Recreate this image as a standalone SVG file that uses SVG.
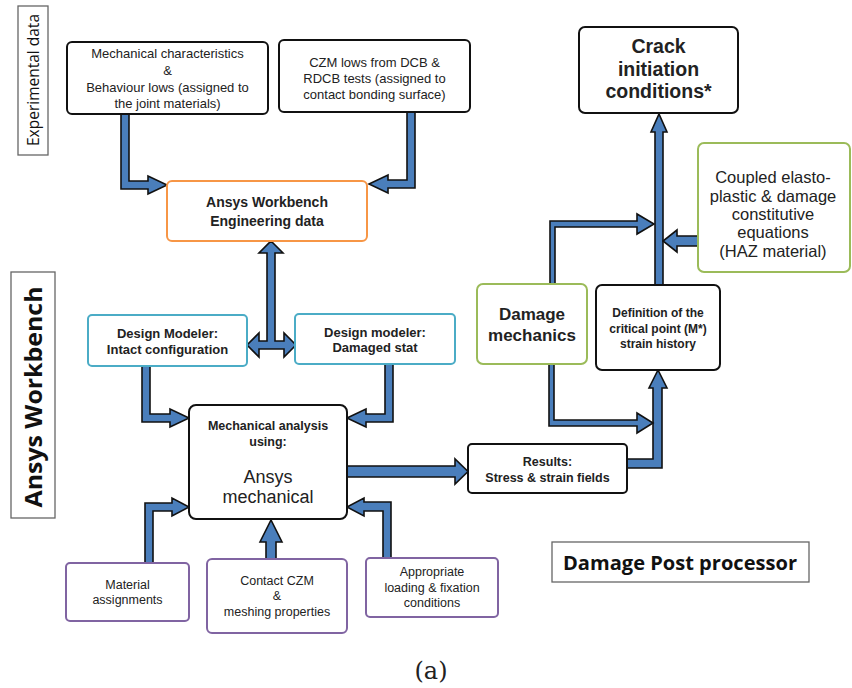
<svg xmlns="http://www.w3.org/2000/svg" width="852" height="688" viewBox="0 0 852 688">
<style>
  .bg{fill:#fff}
  .box{fill:#fff;stroke-width:2}
  .blk{stroke:#111}
  .org{stroke:#F79646}
  .cyn{stroke:#4BACC6}
  .grn{stroke:#9BBB59}
  .pur{stroke:#8064A2}
  .lbl{fill:#fff;stroke:#666;stroke-width:1.3}
  .arr{fill:#4A7EBB;stroke:#111;stroke-width:1.6;stroke-linejoin:miter}
  text{font-family:"Liberation Sans",Arial,sans-serif;fill:#222;text-anchor:middle}
  .b{font-weight:bold}
  .s{font-size:13px}
  .cal{font-family:"Open Sans","Noto Sans",sans-serif;fill:#111}
</style>
<rect class="bg" x="0" y="0" width="852" height="688"/>

<g id="side-labels">
  <g id="experimental-data">
    <rect class="lbl" x="18" y="6" width="30" height="149"/>
    <text class="cal" transform="translate(39,80) rotate(-90)" font-size="15.5" textLength="132" lengthAdjust="spacingAndGlyphs">Experimental data</text>
  </g>
  <g id="ansys-workbench-label">
    <rect class="lbl" x="11" y="272" width="44" height="246"/>
    <text class="cal b" transform="translate(42,397) rotate(-90)" font-size="24" textLength="221" lengthAdjust="spacingAndGlyphs">Ansys Workbench</text>
  </g>
  <g id="damage-post-processor">
    <rect class="lbl" x="552" y="542" width="257" height="40"/>
    <text class="cal b" x="680" y="570" font-size="20" textLength="234" lengthAdjust="spacingAndGlyphs">Damage Post processor</text>
  </g>
</g>

<g id="connectors">
  <polygon id="c-mech-eng" class="arr" points="121,114 129,114 129,181 148,181 148,176 167,185 148,194 148,189 121,189"/>
  <polygon id="c-czm-eng" class="arr" points="407,112 415,112 415,188 388,188 388,193 369,184 388,175 388,180 407,180"/>
  <polygon id="c-eng-design" class="arr" points="271,241 283,253 275,253 275,341 284,341 284,333 296,345 284,357 284,349 259,349 259,357 247,345 259,333 259,341 267,341 267,253 259,253"/>
  <polygon id="c-intact-mech" class="arr" points="142,366 150,366 150,414 170,414 170,409 189,418 170,427 170,422 142,422"/>
  <polygon id="c-damaged-mech" class="arr" points="385,364 393,364 393,422 366,422 366,427 347,418 366,409 366,414 385,414"/>
  <polygon id="c-material-mech" class="arr" points="145,563 153,563 153,511 172,511 172,516 189,507 172,498 172,503 145,503"/>
  <polygon id="c-contact-mech" class="arr" points="266,559 276,559 276,542 282,542 271,520 260,542 266,542"/>
  <polygon id="c-loading-mech" class="arr" points="383,558 391,558 391,502 364,502 364,498 347,507 364,516 364,511 383,511"/>
  <polygon id="c-mech-results" class="arr" points="347,466 455,466 455,459 468,471.5 455,484 455,477 347,477"/>
  <polygon id="c-results-def" class="arr" points="627,459 653,459 653,388 649,388 658,370 667,388 662,388 662,468 627,468"/>
  <polygon id="c-dmg-def" class="arr" points="549,364 554,364 554,420 637,420 637,413 653,423 637,433 637,426 549,426"/>
  <polygon id="c-dmg-spine" class="arr" points="550,284 555,284 555,227 637,227 637,234 654,224 637,214 637,221 550,221"/>
  <polygon id="c-def-crack" class="arr" points="655,285 663,285 663,132 667,132 659,114 651,132 655,132"/>
  <polygon id="c-coupled-spine" class="arr" points="698,236 677,236 677,230 663,241 677,252 677,246 698,246"/>
</g>

<g id="mech-char">
  <rect class="box blk" x="67" y="42" width="201" height="72" rx="5"/>
  <text class="s" x="167.5" y="58">Mechanical  characteristics</text>
  <text class="s" x="167.5" y="75">&amp;</text>
  <text class="s" x="167.5" y="92">Behaviour  lows (assigned to</text>
  <text class="s" x="167.5" y="108">the joint materials)</text>
</g>

<g id="czm-lows">
  <rect class="box blk" x="279" y="40" width="191" height="72" rx="5"/>
  <text class="s" x="374.5" y="67">CZM lows from DCB &amp;</text>
  <text class="s" x="374.5" y="83">RDCB tests (assigned to</text>
  <text class="s" x="374.5" y="99">contact bonding surface)</text>
</g>

<g id="crack-initiation">
  <rect class="box blk" x="579" y="27" width="159" height="86" rx="6"/>
  <text class="b" x="658.5" y="53" font-size="19.5">Crack</text>
  <text class="b" x="658.5" y="76" font-size="19.5">initiation</text>
  <text class="b" x="658.5" y="98" font-size="19.5">conditions*</text>
</g>

<g id="coupled-equations">
  <rect class="box grn" x="698" y="143" width="152" height="129" rx="6"/>
  <text x="773" y="183" font-size="16.5">Coupled elasto-</text>
  <text x="773" y="202" font-size="16.5">plastic &amp; damage</text>
  <text x="773" y="220" font-size="16.5">constitutive</text>
  <text x="773" y="238" font-size="16.5">equations</text>
  <text x="773" y="257" font-size="16.5">(HAZ material)</text>
</g>

<g id="engineering-data">
  <rect class="box org" x="167" y="181" width="200" height="60" rx="5"/>
  <text class="b" x="267" y="207" font-size="14">Ansys Workbench</text>
  <text class="b" x="267" y="226" font-size="14">Engineering data</text>
</g>

<g id="design-intact">
  <rect class="box cyn" x="88" y="315" width="159" height="51" rx="4"/>
  <text class="b s" x="167.5" y="338">Design Modeler:</text>
  <text class="b s" x="167.5" y="354">Intact configuration</text>
</g>

<g id="design-damaged">
  <rect class="box cyn" x="295" y="314" width="160" height="50" rx="4"/>
  <text class="b s" x="375" y="337">Design modeler:</text>
  <text class="b s" x="375" y="352">Damaged stat</text>
</g>

<g id="mechanical-analysis">
  <rect class="box blk" x="189" y="405" width="158" height="114" rx="7"/>
  <text class="b" x="268" y="429.5" font-size="12.5">Mechanical analysis</text>
  <text class="b" x="268" y="446" font-size="12.5">using:</text>
  <text x="268" y="483" font-size="18">Ansys</text>
  <text x="268" y="503" font-size="18">mechanical</text>
</g>

<g id="damage-mechanics">
  <rect class="box grn" x="477" y="284" width="110" height="80" rx="6"/>
  <text class="b" x="532" y="320" font-size="17">Damage</text>
  <text class="b" x="532" y="341" font-size="17">mechanics</text>
</g>

<g id="critical-point">
  <rect class="box blk" x="596" y="285" width="124" height="85" rx="6"/>
  <text class="b" x="658" y="317" font-size="12">Definition of the</text>
  <text class="b" x="658" y="333" font-size="12">critical point (M*)</text>
  <text class="b" x="658" y="348" font-size="12">strain history</text>
</g>

<g id="results">
  <rect class="box blk" x="468" y="444" width="159" height="49" rx="4"/>
  <text class="b" x="547.5" y="466" font-size="12.5">Results:</text>
  <text class="b" x="547.5" y="482" font-size="12.5">Stress &amp; strain fields</text>
</g>

<g id="material-assignments">
  <rect class="box pur" x="66" y="563" width="123" height="58" rx="4"/>
  <text x="127.5" y="589" font-size="12.5">Material</text>
  <text x="127.5" y="604" font-size="12.5">assignments</text>
</g>

<g id="contact-czm">
  <rect class="box pur" x="207" y="559" width="140" height="74" rx="5"/>
  <text x="277" y="585" font-size="12.5">Contact CZM</text>
  <text x="277" y="600" font-size="12.5">&amp;</text>
  <text x="277" y="616" font-size="12.5">meshing properties</text>
</g>

<g id="loading-conditions">
  <rect class="box pur" x="366" y="558" width="132" height="59" rx="4"/>
  <text x="432" y="576" font-size="12.5">Appropriate</text>
  <text x="432" y="592" font-size="12.5">loading &amp; fixation</text>
  <text x="432" y="607" font-size="12.5">conditions</text>
</g>

<g id="caption">
  <text x="431" y="679" font-size="24" style="font-family:'DejaVu Serif','Liberation Serif',serif">(a)</text>
</g>
</svg>
